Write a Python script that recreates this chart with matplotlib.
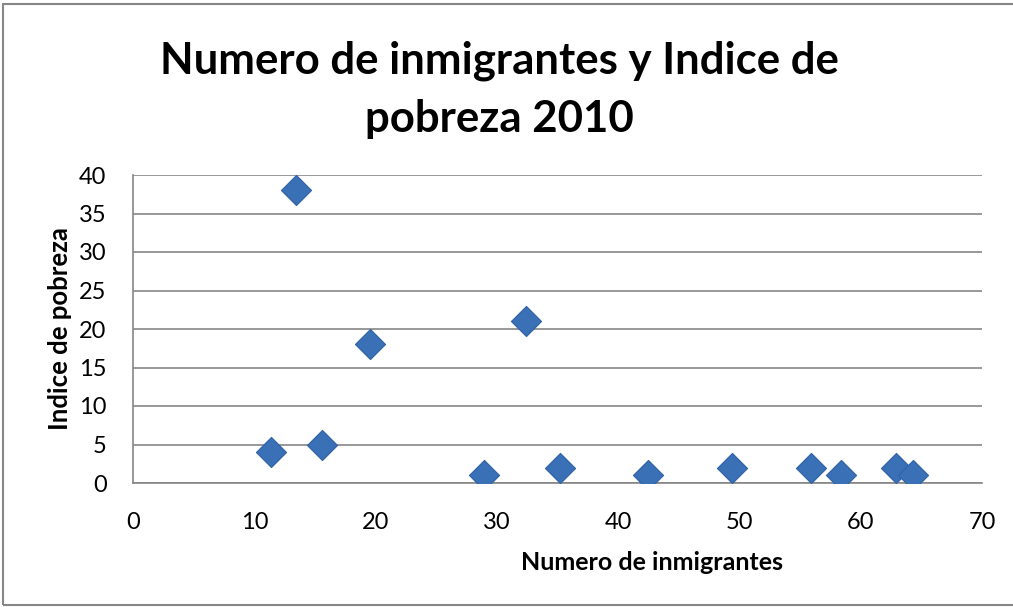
import matplotlib.pyplot as plt
from matplotlib.patches import Rectangle

TITLE = "Numero de inmigrantes y Indice de\npobreza 2010"
X_LABEL = "Numero de inmigrantes"
Y_LABEL = "Indice de pobreza"

inmigrantes = [13.4, 19.5, 32.4, 11.4, 15.6, 28.9, 35.2, 42.5, 49.4, 55.9, 58.4, 62.9, 64.3]
pobreza = [38, 18, 21, 4, 5, 1, 2, 1, 2, 2, 1, 2, 1]

W, H = 1013, 607
fig = plt.figure(figsize=(W / 100, H / 100), dpi=100)
plt.rcParams["font.family"] = ["Lato", "DejaVu Sans"]

# outer chart border
fig.patches.append(Rectangle((3 / W, 2 / H), 1.2, (601 / H), transform=fig.transFigure,
                             fill=False, edgecolor="#868686", linewidth=1.5))

ax = fig.add_axes([133 / W, 1 - 483 / H, (982 - 133) / W, (483 - 175) / H])
ax.scatter(inmigrantes, pobreza, marker="D", s=235, color="#3A70B5",
           edgecolors="#2F62A6", linewidths=0.8, zorder=3)

ax.set_xlim(0, 70)
ax.set_ylim(0, 40)
ax.set_xticks(range(0, 71, 10))
ax.set_yticks(range(0, 41, 5))
ax.grid(axis="y", color="#868686", linewidth=1.2)
ax.set_axisbelow(True)
for s in ["top", "right"]:
    ax.spines[s].set_visible(False)
for s in ["left", "bottom"]:
    ax.spines[s].set_color("#868686")
    ax.spines[s].set_linewidth(1.2)
ax.tick_params(length=0, labelsize=17)
ax.tick_params(axis="y", pad=19)
ax.tick_params(axis="x", pad=21)

ax.set_ylabel(Y_LABEL, fontsize=18.5, fontweight="bold", labelpad=5)
# excel puts the x title right of centre
fig.text(652 / W, 1 - 562 / H, X_LABEL, ha="center", va="center", fontsize=18,
         fontweight="bold")

fig.text(0.493, 1 - 90 / H, TITLE, ha="center", va="center", fontsize=31.5,
         fontweight="bold", linespacing=1.55)

fig.savefig("out.png", dpi=100)
